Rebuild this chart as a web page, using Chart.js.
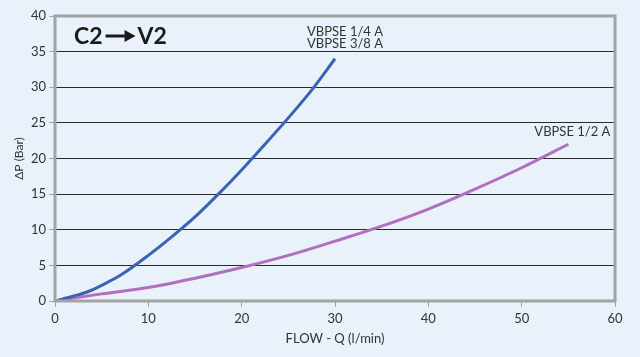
<!DOCTYPE html>
<html><head><meta charset="utf-8">
<script src="https://cdn.jsdelivr.net/npm/chart.js@4"></script>
<style>html,body{margin:0;padding:0;background:#e9f1fb;}#w{width:640px;height:357px;}</style>
</head><body><div id="w"><canvas id="c"></canvas></div>
<script>
const xTicks = [0,10,20,30,40,50,60];
const yTicks = [0,5,10,15,20,25,30,35,40];
const flowA = [0,2,3.5,5,7,10,12.5,15,17.5,20,22.5,25,27.5,30];
const dpA   = [0,0.7,1.3,2.2,3.6,6.4,9.0,11.8,15.0,18.4,22.0,25.7,29.6,34.0];
const flowB = [0,5,10,15,20,25,30,35,40,45,50,55];
const dpB   = [0,1.0,1.9,3.2,4.7,6.4,8.4,10.5,12.9,15.7,18.7,22.0];
const labelA = ["VBPSE 1/4 A","VBPSE 3/8 A"];
const labelB = ["VBPSE 1/2 A"];
const title = ["C2","V2"];
const FONT = "Lato, 'DejaVu Sans', sans-serif";
const GREY = "#a3a3a3";
const TXT = "#333";

const deco = {
  id:'deco',
  afterDatasetsDraw(chart){
    const {ctx, chartArea:a, scales:{x,y}} = chart;
    ctx.save();
    ctx.strokeStyle = GREY; ctx.lineWidth = 3;
    ctx.strokeRect(a.left, a.top, a.right-a.left, a.bottom-a.top);
    ctx.fillStyle = "#1a1a1a";
    ctx.font = "bold 23px " + FONT;
    ctx.textBaseline = "alphabetic"; ctx.textAlign = "left";
    let tx = a.left + 19, ty = a.top + 28;
    ctx.fillText(title[0], tx, ty);
    let w = ctx.measureText(title[0]).width;
    let ax0 = tx + w + 3, ax1 = ax0 + 30, ay = ty - 8;
    ctx.strokeStyle = "#1a1a1a"; ctx.lineWidth = 3;
    ctx.beginPath(); ctx.moveTo(ax0, ay); ctx.lineTo(ax1-8, ay); ctx.stroke();
    ctx.beginPath(); ctx.moveTo(ax1, ay); ctx.lineTo(ax1-11, ay-6); ctx.lineTo(ax1-11, ay+6); ctx.closePath(); ctx.fill();
    ctx.fillText(title[1], ax1 + 2, ty);
    ctx.font = "13px " + FONT; ctx.fillStyle = TXT; ctx.textAlign = "center";
    const pa = {x:x.getPixelForValue(flowA[flowA.length-1]), y:y.getPixelForValue(dpA[dpA.length-1])};
    ctx.fillText(labelA[0], pa.x + 10, pa.y - 23);
    ctx.fillText(labelA[1], pa.x + 10, pa.y - 11);
    const pb = {x:x.getPixelForValue(flowB[flowB.length-1]), y:y.getPixelForValue(dpB[dpB.length-1])};
    ctx.fillText(labelB[0], pb.x + 4, pb.y - 8);
    ctx.restore();
  }
};

new Chart(document.getElementById('c'), {
  type:'line',
  data:{datasets:[
    {data: flowA.map((v,i)=>({x:v,y:dpA[i]})), borderColor:'#3a63b6', borderWidth:3, pointRadius:0, cubicInterpolationMode:'monotone', fill:false},
    {data: flowB.map((v,i)=>({x:v,y:dpB[i]})), borderColor:'#b06fbf', borderWidth:3, pointRadius:0, cubicInterpolationMode:'monotone', fill:false}
  ]},
  options:{
    responsive:true, maintainAspectRatio:false, animation:false,
    layout:{padding:{top:16,right:25,left:8,bottom:6}},
    plugins:{legend:{display:false}, tooltip:{enabled:false}},
    scales:{
      x:{type:'linear', min:0, max:60,
        afterBuildTicks(s){ s.ticks = xTicks.map(v=>({value:v})); },
        afterFit(s){ s.height = 50; },
        grid:{drawOnChartArea:false, drawTicks:true, tickLength:6, color:GREY, tickColor:GREY},
        border:{display:false},
        ticks:{color:TXT, font:{family:FONT, size:13}, padding:4, maxRotation:0},
        title:{display:true, text:'FLOW - Q (l/min)', color:TXT, font:{family:FONT, size:13}, padding:{top:2}}
      },
      y:{type:'linear', min:0, max:40,
        afterBuildTicks(s){ s.ticks = yTicks.map(v=>({value:v})); },
        afterFit(s){ s.width = 47; },
        grid:{color:(c)=> (c.tick && (c.tick.value===0||c.tick.value===40)) ? 'rgba(0,0,0,0)' : '#2a2a2a', lineWidth:1, tickLength:6, tickColor:GREY},
        border:{display:false},
        ticks:{color:TXT, font:{family:FONT, size:13}, padding:3},
        title:{display:true, text:'ΔP (Bar)', color:TXT, font:{family:FONT, size:12}, padding:{bottom:2}}
      }
    }
  },
  plugins:[deco]
});
</script></body></html>
